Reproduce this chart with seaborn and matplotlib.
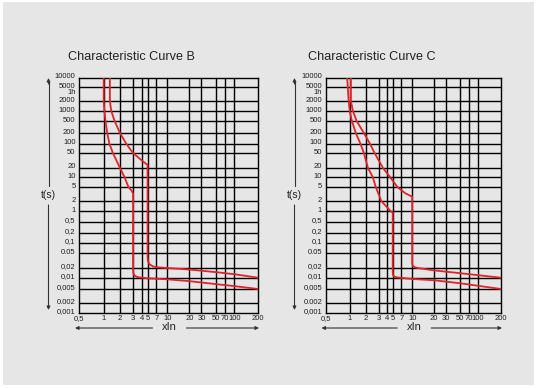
import numpy as np
import seaborn as sns
import matplotlib.pyplot as plt
from matplotlib.patches import Rectangle
from matplotlib.transforms import ScaledTranslation

# ---- chart data ----
x_ticks = [0.5, 1, 2, 3, 4, 5, 7, 10, 20, 30, 50, 70, 100, 200]
x_labels = ["0,5", "1", "2", "3", "4", "5", "7", "10", "20", "30", "50", "70", "100", "200"]

y_ticks = [10000, 5000, 3600, 2000, 1000, 500, 200, 100, 50, 20, 10, 5, 2, 1,
           0.5, 0.2, 0.1, 0.05, 0.02, 0.01, 0.005, 0.002, 0.001]
y_labels = ["10000", "5000", "1h", "2000", "1000", "500", "200", "100", "50", "20", "10", "5", "2", "1",
            "0,5", "0,2", "0,1", "0.05", "0,02", "0,01", "0,005", "0.002", "0,001"]

# curve B
b_low_x = [1.0, 1.0, 1.03, 1.08, 1.16, 1.28, 1.48, 2.0, 2.3, 2.6, 2.85, 3.0, 3.0, 3.03, 3.15, 3.5,
           5, 10, 20, 50, 100, 200]
b_low_t = [10000, 2000, 1000, 500, 200, 100, 50, 20, 10, 5, 4, 3.3, 0.018, 0.014, 0.0118, 0.0106,
           0.0098, 0.0092, 0.0082, 0.0068, 0.006, 0.005]
b_up_x = [1.3, 1.3, 1.33, 1.38, 1.59, 2.0, 2.44, 3.0, 4.0, 5.0, 5.0, 5.08, 5.4, 6.2, 7.0, 10, 20, 50, 100, 200]
b_up_t = [10000, 2500, 1500, 1000, 500, 200, 100, 50, 32, 24, 0.04, 0.03, 0.025, 0.022, 0.021, 0.02,
          0.018, 0.015, 0.013, 0.0102]

# curve C
c_low_x = [0.93, 0.97, 1.0, 1.1, 1.3, 1.6, 1.85, 2.15, 2.5, 2.75, 3.3, 4.6, 5.0, 5.0, 5.05, 5.3, 6.0,
           10, 20, 50, 200]
c_low_t = [10000, 2000, 1000, 500, 200, 100, 50, 20, 10, 5, 2, 1, 0.9, 0.016, 0.0125, 0.011, 0.0104,
           0.0094, 0.0087, 0.0072, 0.005]
c_up_x = [1.05, 1.05, 1.15, 1.35, 1.85, 2.3, 2.65, 3.5, 4.5, 6.0, 8.0, 10, 10, 10.15, 10.8, 12, 20, 50, 200]
c_up_t = [10000, 2000, 1000, 500, 200, 100, 50, 20, 10, 5, 3.3, 2.65, 0.027, 0.023, 0.021, 0.02, 0.017,
          0.014, 0.0102]

# ---- the printed grid is only roughly logarithmic: piecewise log scale ----
x_frac = [0, .138, .229, .302, .350, .383, .432, .494, .617, .684, .765, .816, .868, 1]
y_from_top = [0, 9, 16, 23, 33, 43, 55, 66, 75, 90, 99, 109, 123, 133, 144, 155, 165, 175,
              190, 200, 211, 225, 235]


def make_scale(ticks, fracs):
    lt = np.log10(np.asarray(ticks, float))
    fr = np.asarray(fracs, float)
    order = np.argsort(lt)
    lt, fr = lt[order], fr[order]
    s0 = (fr[1] - fr[0]) / (lt[1] - lt[0])
    s1 = (fr[-1] - fr[-2]) / (lt[-1] - lt[-2])

    def fwd(v):
        l = np.log10(np.clip(np.asarray(v, float), 1e-12, None))
        out = np.interp(l, lt, fr)
        out = np.where(l < lt[0], fr[0] + (l - lt[0]) * s0, out)
        return np.where(l > lt[-1], fr[-1] + (l - lt[-1]) * s1, out)

    def inv(f):
        f = np.asarray(f, float)
        out = np.interp(f, fr, lt)
        out = np.where(f < fr[0], lt[0] + (f - fr[0]) / s0, out)
        out = np.where(f > fr[-1], lt[-1] + (f - fr[-1]) / s1, out)
        return 10 ** out

    return fwd, inv


x_scale = make_scale(x_ticks, x_frac)
y_scale = make_scale(y_ticks, [1 - p / 235 for p in y_from_top])

sns.set_style("white")
plt.rcParams['font.family'] = ['Liberation Sans', 'DejaVu Sans']

W, H = 537, 388
GRAY = "#e6e6e6"
RED = "#e2232b"

fig = plt.figure(figsize=(W / 100, H / 100), dpi=100)
fig.patch.set_facecolor("white")
fig.add_artist(Rectangle((3 / W, 3 / H), (W - 6) / W, (H - 5) / H, transform=fig.transFigure,
                         facecolor=GRAY, edgecolor="none", zorder=-10))


def fx(px):
    return px / W


def fy(py):
    return 1 - py / H


panels = [
    dict(title="Characteristic Curve B", left=79, right=258, title_x=68, arrow_x=48.5,
         curves=[(b_low_x, b_low_t), (b_up_x, b_up_t)]),
    dict(title="Characteristic Curve C", left=325.5, right=501, title_x=308, arrow_x=294.5,
         curves=[(c_low_x, c_low_t), (c_up_x, c_up_t)]),
]
top, bottom = 78, 313

for p in panels:
    ax = fig.add_axes([fx(p["left"]), fy(bottom), (p["right"] - p["left"]) / W, (bottom - top) / H])
    ax.set_facecolor("none")
    ax.set_xscale("function", functions=x_scale)
    ax.set_yscale("function", functions=y_scale)
    ax.set_xlim(0.5, 200)
    ax.set_ylim(0.001, 10000)

    for v in x_ticks[1:-1]:
        ax.axvline(v, color="black", lw=1.0, zorder=1)
    for v in y_ticks[1:-1]:
        if v != 3600:
            ax.axhline(v, color="black", lw=1.0, zorder=1)

    for cx, ct in p["curves"]:
        sns.lineplot(x=cx, y=ct, sort=False, estimator=None, color=RED, lw=1.3, ax=ax, zorder=3)

    ax.set_xlabel("")
    ax.set_ylabel("")
    for s in ax.spines.values():
        s.set_color("black")
        s.set_linewidth(1.0)

    ax.set_xticks(x_ticks, x_labels)
    ax.set_yticks(y_ticks, y_labels)
    ax.minorticks_off()
    ax.tick_params(axis="both", length=0, labelsize=5.5, colors="#1e1e1e")
    ax.tick_params(axis="x", pad=1.5)
    ax.tick_params(axis="y", pad=2.5)
    for lab in ax.get_yticklabels():
        lab.set_transform(lab.get_transform() + ScaledTranslation(0, 2 / 100, fig.dpi_scale_trans))

    fig.text(fx(p["title_x"]), fy(57), p["title"], fontsize=9.1, ha="left", va="center", color="#222222")

    # t(s) arrow
    ax_x = fx(p["arrow_x"])
    arr = dict(arrowstyle="-|>", color="#333333", lw=0.8, mutation_scale=5, shrinkA=0, shrinkB=0)
    fig.add_artist(plt.Line2D([ax_x, ax_x], [fy(186), fy(82)], color="#333333", lw=0.8))
    ax.annotate("", xy=(ax_x, fy(78)), xytext=(ax_x, fy(84)), xycoords="figure fraction", arrowprops=arr)
    ax.annotate("", xy=(ax_x, fy(310)), xytext=(ax_x, fy(205)), xycoords="figure fraction", arrowprops=arr)
    fig.text(ax_x, fy(195), "t(s)", fontsize=7.5, ha="center", va="center", color="#222222")

    # xIn arrow
    mid = (p["left"] + p["right"]) / 2 + 1
    ay = fy(328)
    ax.annotate("", xy=(fx(p["left"] - 4), ay), xytext=(fx(mid - 17), ay), xycoords="figure fraction",
                arrowprops=arr)
    ax.annotate("", xy=(fx(p["right"] + 1), ay), xytext=(fx(mid + 17), ay), xycoords="figure fraction",
                arrowprops=arr)
    fig.text(fx(mid), fy(327), "xIn", fontsize=8, ha="center", va="center", color="#222222")

fig.savefig("out.png", dpi=100, facecolor=fig.get_facecolor())
